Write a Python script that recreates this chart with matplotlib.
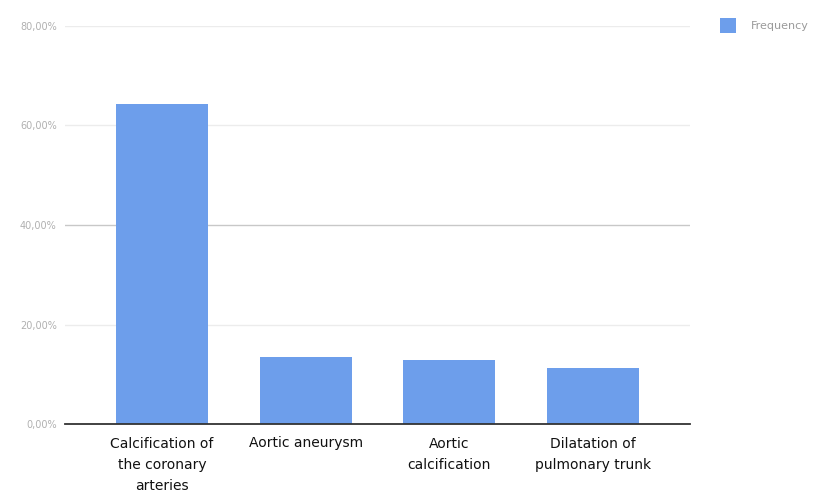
import matplotlib
matplotlib.use("Agg")
import matplotlib.pyplot as plt
from matplotlib.patches import Rectangle

categories = [
    "Calcification of\nthe coronary\narteries",
    "Aortic aneurysm",
    "Aortic\ncalcification",
    "Dilatation of\npulmonary trunk",
]
frequency = [64.26, 13.37, 12.85, 11.16]
y_ticks = [0, 20, 40, 60, 80]
y_tick_labels = ["0,00%", "20,00%", "40,00%", "60,00%", "80,00%"]
series_name = "Frequency"

bar_color = "#6d9eeb"

fig = plt.figure(figsize=(8.25, 4.92), dpi=100)
ax = fig.add_axes([65 / 825, 1 - 424 / 492, 625 / 825, 398 / 492])

x = list(range(len(categories)))
ax.bar(x, frequency, width=0.64, color=bar_color, zorder=3)

ax.set_xlim(-0.675, 3.674)
ax.set_ylim(0, 80)
ax.set_yticks(y_ticks)
ax.set_yticklabels(y_tick_labels, fontsize=7, color="#b0b0b0")
ax.tick_params(axis="y", length=0, pad=6)

# horizontal gridlines; the middle one is drawn a bit darker
for t in y_ticks[1:]:
    c = "#c8c8c8" if t == 40 else "#ececec"
    ax.axhline(t, color=c, linewidth=1.0, zorder=1)

ax.set_xticks(x)
ax.set_xticklabels(categories, fontsize=10, color="#111111", linespacing=1.65)
ax.tick_params(axis="x", length=0, pad=9)
for lbl in ax.get_xticklabels():
    lbl.set_verticalalignment("top")

for side in ["top", "right", "left"]:
    ax.spines[side].set_visible(False)
ax.spines["bottom"].set_color("#333333")
ax.spines["bottom"].set_linewidth(1.3)
ax.spines["bottom"].set_zorder(4)

# legend swatch and label in the top right corner
fig.patches.append(Rectangle((720 / 825, 1 - 33 / 492), 16 / 825, 15 / 492,
                             transform=fig.transFigure, facecolor=bar_color,
                             edgecolor="none"))
fig.text(751 / 825, 1 - 26 / 492, series_name, fontsize=8, color="#9a9a9a",
         va="center", ha="left")

fig.savefig("out.png", dpi=100)
